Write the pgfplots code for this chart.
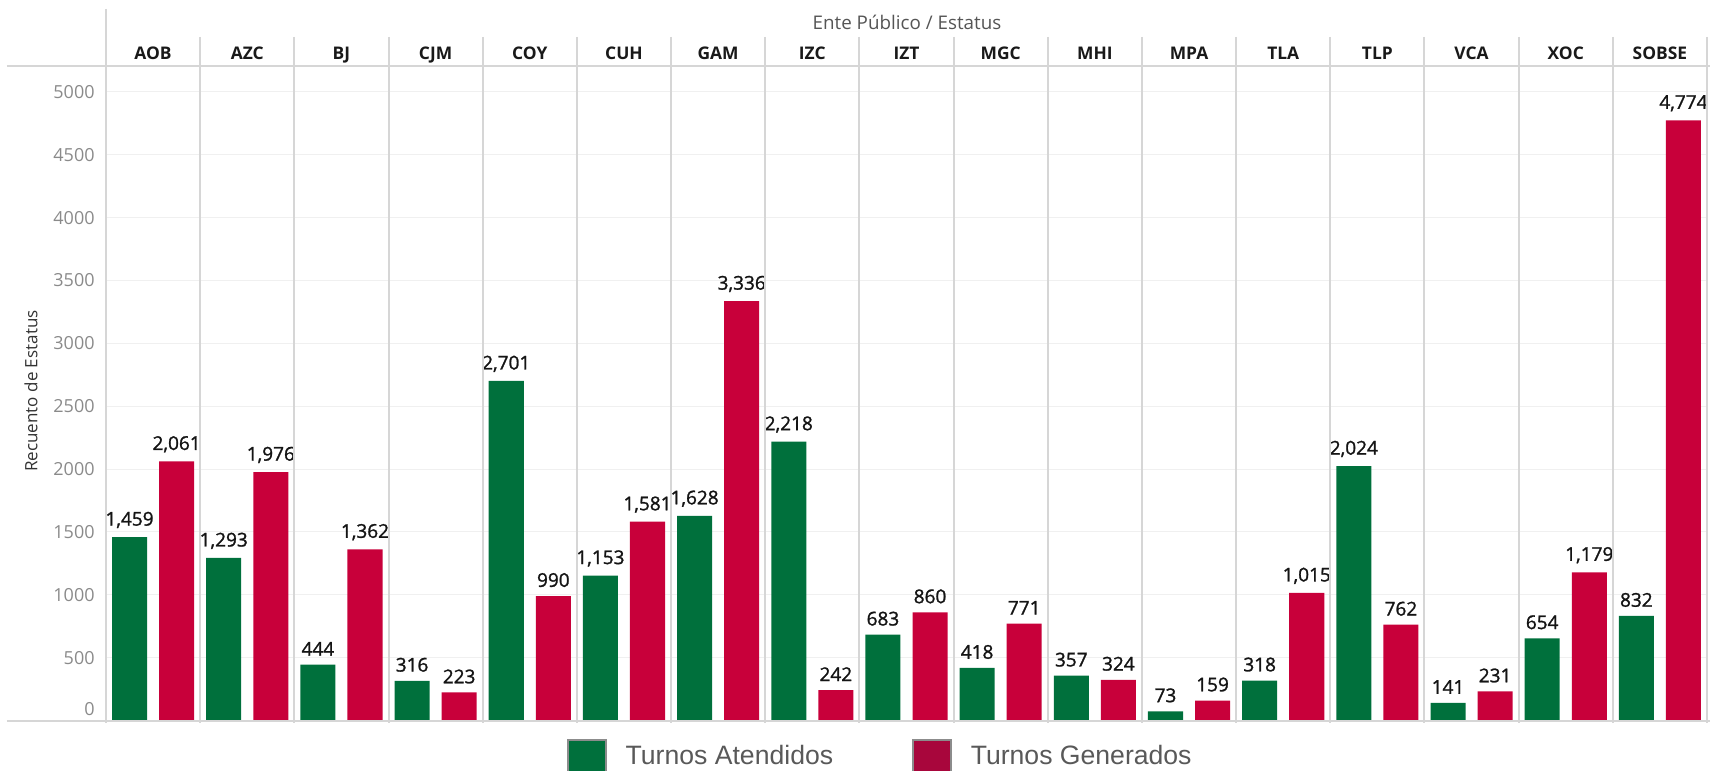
\documentclass[border=0pt]{standalone}
\usepackage{fontspec}
\setmainfont{Open Sans}
\newfontfamily\valfont[FakeBold=1.3]{Open Sans}
\newfontfamily\legfont{Liberation Sans}
\usepackage{pgfplots}
\usepackage{pgfplotstable}
\pgfplotsset{compat=1.18}
\definecolor{bargreen}{HTML}{00703C}
\definecolor{barred}{HTML}{C8003A}
\definecolor{legred}{HTML}{A8063C}
\definecolor{sepgray}{HTML}{D6D6D6}
\definecolor{gridgray}{HTML}{F0F0F0}
\definecolor{tickgray}{HTML}{8A8A8A}
\definecolor{titlegray}{HTML}{555555}
\definecolor{legtext}{HTML}{595959}
\definecolor{legborder}{HTML}{8C8C8C}

% xa/xg: positions of the two bars in each panel (panel i centred at i)
\pgfplotstableread{
xa    xg    aten  gen
-0.25 0.25  1459  2061
0.75  1.25  1293  1976
1.75  2.25  444   1362
2.75  3.25  316   223
3.75  4.25  2701  990
4.75  5.25  1153  1581
5.75  6.25  1628  3336
6.75  7.25  2218  242
7.75  8.25  683   860
8.75  9.25  418   771
9.75  10.25 357   324
10.75 11.25 73    159
11.75 12.25 318   1015
12.75 13.25 2024  762
13.75 14.25 141   231
14.75 15.25 654   1179
15.75 16.25 832   4774
}\data

\begin{document}
\begin{tikzpicture}
\begin{axis}[
  scale only axis,
  width=800.5pt, height=327.5pt,
  xmin=-0.5, xmax=16.5, ymin=0, ymax=5210,
  axis line style={draw=none},
  major tick length=0pt,
  /pgf/number format/assume math mode=true,
  ytick={500,1000,...,5000},
  extra y ticks={0},
  extra y tick style={yticklabel style={yshift=5.5pt}},
  yticklabel style={font=\fontsize{9}{9}\selectfont, text=tickgray, anchor=east, inner sep=0pt, xshift=-5.5pt, /pgf/number format/1000 sep={}},
  ymajorgrids,
  major grid style={gridgray, line width=0.5pt},
  xtick={0,...,16},
  xticklabels={AOB,AZC,BJ,CJM,COY,CUH,GAM,IZC,IZT,MGC,MHI,MPA,TLA,TLP,VCA,XOC,SOBSE},
  xticklabel pos=upper,
  xticklabel style={font=\bfseries\fontsize{8.7}{8.7}\selectfont, text=black!90, anchor=base, inner sep=0pt, yshift=3pt},
  title={Ente Público / Estatus},
  every axis title/.style={at={(axis description cs:0.5003,1.0542)}, anchor=base, font=\fontsize{9.4}{9.4}\selectfont, text=titlegray},
  ylabel={Recuento de Estatus},
  every axis y label/.style={at={(axis description cs:-0.0468,0.503)}, rotate=90, anchor=center, font=\fontsize{8.5}{8.5}\selectfont, text=black!80},
  nodes near coords,
  every node near coord/.append style={font=\valfont\fontsize{9.5}{9.5}\selectfont, text=black!92, inner sep=0pt, yshift=4.3pt},
  legend columns=2,
  legend style={at={(axis description cs:0.288,-0.0282)}, anchor=north west, draw=none, fill=none, inner sep=0pt, outer sep=0pt,
    font=\legfont\fontsize{13.3}{13.3}\selectfont, text=legtext, nodes={inner sep=0pt},
    /tikz/every odd column/.append style={column sep=9.5pt},
    /tikz/every even column/.append style={column sep=39.5pt}},
]
\addplot[ybar, bar width=0.372, bar shift=0pt, fill=bargreen, draw=none, forget plot] table[x=xa, y=aten] {\data};
\addplot[ybar, bar width=0.372, bar shift=0pt, fill=barred, draw=none, forget plot] table[x=xg, y=gen] {\data};
\addlegendimage{legend image code/.code={\draw[fill=bargreen, draw=legborder, line width=0.8pt] (0pt,-13pt) rectangle (19pt,8.3pt);}}
\addlegendentry{Turnos Atendidos}
\addlegendimage{legend image code/.code={\draw[fill=legred, draw=legborder, line width=0.8pt] (0pt,-13pt) rectangle (19pt,8.3pt);}}
\addlegendentry{Turnos Generados}
\end{axis}
\begin{scope}[x=0.5pt, y=-0.5pt, shift={(-53pt,360.25pt)}]
  \draw[sepgray, line width=1pt] (106,9) -- (106,723);
  \foreach \i in {1,...,17} {
    \draw[sepgray, line width=1pt] ({106+\i*94.176},37) -- ({106+\i*94.176},723);
  }
  \draw[sepgray, line width=1pt] (7,66) -- (1710,66);
  \draw[sepgray, line width=1pt] (7,721) -- (1710,721);
  \pgfresetboundingbox
  \path[use as bounding box] (0,0) rectangle (1710,771);
\end{scope}
\end{tikzpicture}
\end{document}
